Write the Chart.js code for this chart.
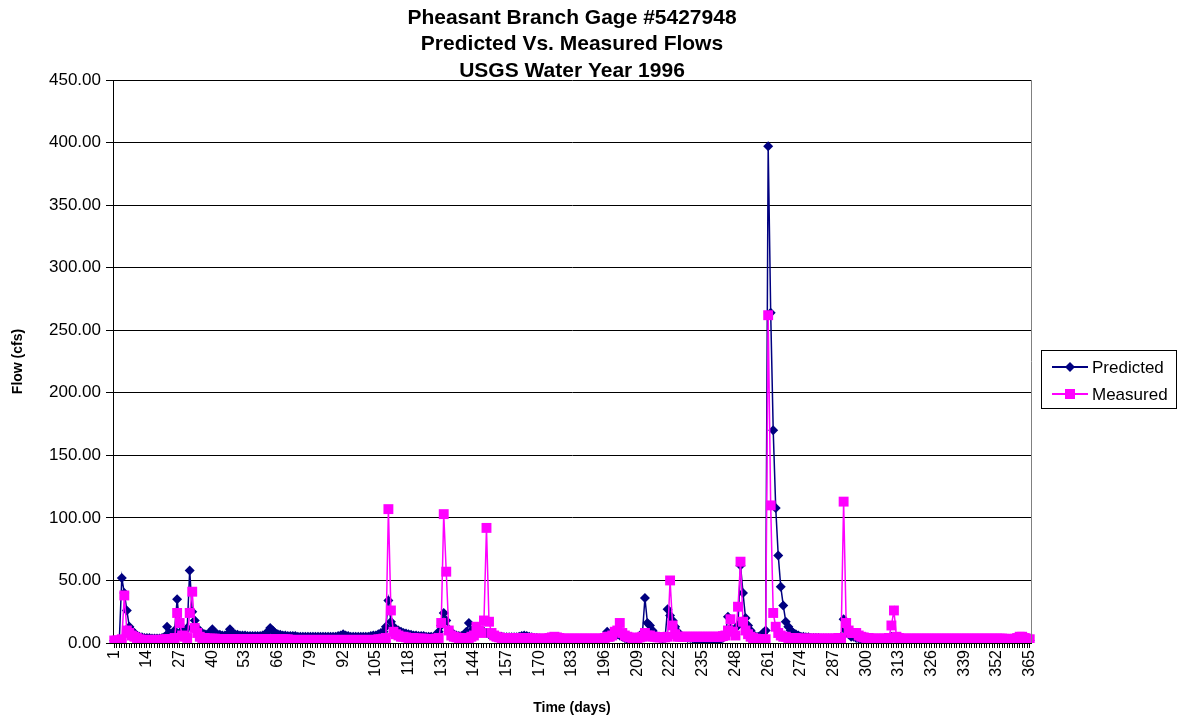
<!DOCTYPE html>
<html>
<head>
<meta charset="utf-8">
<script src="https://cdn.jsdelivr.net/npm/chart.js@4/dist/chart.umd.min.js"></script>
<style>
  body { margin: 0; background: #fff; }
  #wrap { width: 1177px; height: 721px; }
</style>
</head>
<body>
<div id="wrap"><canvas id="flowChart" width="1177" height="721"></canvas></div>
<script>
// days 1..365 of the water year
const days = Array.from({ length: 365 }, (_, i) => i + 1);
// labelled ticks on the time axis
const tickDays = [1, 14, 27, 40, 53, 66, 79, 92, 105, 118, 131, 144, 157, 170, 183, 196, 209, 222, 235, 248, 261, 274, 287, 300, 313, 326, 339, 352, 365];
const yTicks = [0, 50, 100, 150, 200, 250, 300, 350, 400, 450];
const titleLines = ["Pheasant Branch Gage #5427948", "Predicted Vs. Measured Flows", "USGS Water Year 1996"];

// predicted flow (cfs), 10 days per row
const predicted = [
  2, 2, 2, 52, 40, 26, 13, 10, 8, 6,
  5, 4.5, 4, 4, 4, 3.5, 3.5, 3.5, 3.5, 4,
  5, 13, 8, 6, 10, 35, 15, 10, 9, 12,
  58, 25, 18, 12, 9, 8, 7, 7, 8, 11,
  8, 7, 6.5, 6, 6, 7, 11, 8, 7, 6.5,
  6, 6, 6, 5.5, 5.5, 5.5, 5.5, 5.5, 5.5, 6,
  7, 9, 12, 10, 8, 7, 6.5, 6, 6, 5.5,
  5.5, 5.5, 5.5, 5, 5, 5, 5, 5, 5, 5,
  5, 5, 5, 5, 5, 5, 5, 5, 5, 5.5,
  6, 7, 6, 5.5, 5, 5, 5, 5, 5, 5,
  5, 5, 5.5, 6, 6, 7, 8, 9, 13, 34,
  17, 13, 11, 10, 9, 8, 7.5, 7, 6.5, 6,
  6, 5.5, 5.5, 5.5, 5, 5, 5, 5, 6, 9,
  14, 24, 18, 11, 8, 7, 6, 5.5, 5.5, 6,
  9, 16, 10, 7, 8, 9, 10, 9, 8, 7,
  6, 5.5, 5, 5, 5, 4.5, 4.5, 4.5, 4.5, 4.5,
  4.5, 5, 5.5, 6, 5.5, 5, 4.5, 4, 4, 3.5,
  3, 3, 3, 2.5, 2.5, 2.5, 2, 2, 2, 1.5,
  1.5, 1.5, 1.5, 1, 1, 1, 1, 1, 1, 1,
  1, 1, 1, 1.5, 2, 5, 9, 6, 5, 6,
  7, 6, 5, 4, 3, 3, 2.5, 2.5, 3, 4,
  8, 36, 16, 14, 10, 7, 5, 4, 3.5, 4,
  27, 22, 18, 13, 9, 6, 5, 4.5, 4, 4,
  3.5, 3, 2.5, 2, 1.5, 1.5, 1, 1, 1, 1.5,
  2, 3, 4, 7, 21, 12, 9, 7, 14, 62,
  40, 20, 14, 10, 7, 5, 5, 6, 8, 10,
  397, 264, 170, 108, 70, 45, 30, 17, 13, 10,
  8, 7, 6, 5, 5, 4.5, 4.5, 4, 4, 4,
  4, 3.5, 3.5, 3.5, 3.5, 3.5, 3.5, 3.5, 4, 5,
  19, 10, 7, 5, 5, 4, 3.5, 3, 3, 2.5,
  2.5, 2.5, 2.5, 2.5, 2.5, 2.5, 2.5, 2.5, 3, 5,
  5, 4, 3, 3, 2.5, 2.5, 2.5, 2.5, 2.5, 2.5,
  2.5, 2.5, 2.5, 2.5, 2.5, 2.5, 2.5, 2.5, 2.5, 2.5,
  2.5, 2, 2, 2, 2, 2, 2, 2, 2, 2,
  2, 2, 2, 2, 2, 2, 2, 2, 2, 2,
  2, 2, 2, 2, 2, 2, 2, 2, 2.5, 3,
  3, 3, 2.5, 2, 2
];

// measured flow (cfs), 10 days per row
const measured = [
  2, 2, 2, 3, 38, 10, 8, 6, 5, 4,
  3, 2.5, 2.5, 2.5, 2.5, 2.5, 2.5, 2.5, 2.5, 2.5,
  3, 3, 3, 3, 4, 24, 16, 6, 5, 4,
  24, 41, 12, 8, 5, 4, 4, 3.5, 3.5, 3.5,
  3.5, 3, 3, 3, 3, 3, 3, 3, 3, 3,
  3, 3, 3, 3, 3, 3, 3, 3, 3, 3,
  3, 3, 3, 3, 3, 3, 3, 3, 3, 3,
  2.5, 2.5, 2.5, 2.5, 2.5, 2.5, 2.5, 2.5, 2.5, 2.5,
  2.5, 2.5, 2.5, 2.5, 2.5, 2.5, 2.5, 2.5, 2.5, 2.5,
  2.5, 2.5, 2.5, 2.5, 2.5, 2.5, 2.5, 2.5, 2.5, 2.5,
  2.5, 2.5, 2.5, 2.5, 2.5, 3, 3, 3.5, 4, 107,
  26, 9, 7, 6, 5, 5, 4.5, 4, 4, 4,
  3.5, 3.5, 3.5, 3.5, 3, 3, 3, 3, 3.5, 4,
  16, 103, 57, 10, 6, 5, 4.5, 4, 4, 4,
  4, 4, 5, 6, 13, 10, 8, 18, 92, 17,
  8, 6, 5, 4.5, 4, 4, 4, 4, 4, 4,
  4, 4, 4, 4, 4, 4, 3.5, 3.5, 3.5, 3.5,
  3.5, 3.5, 3.5, 4, 4.5, 5, 4.5, 4, 3.5, 3.5,
  3.5, 3.5, 3.5, 3.5, 3.5, 3.5, 3.5, 3.5, 3.5, 3.5,
  3.5, 3.5, 3.5, 3.5, 3.5, 4, 5, 5, 6, 9,
  10, 16, 8, 6, 5, 4.5, 4, 4, 4, 4.5,
  5, 8, 6, 6, 5, 5, 4.5, 4.5, 4.5, 4.5,
  5, 50, 14, 7, 5, 5, 5, 5, 5, 5,
  5, 5, 5, 5, 5, 5, 5, 5, 5, 5,
  5, 5, 5.5, 6, 10, 19, 9, 6, 29, 65,
  17, 10, 7, 5, 4, 3.5, 3, 3, 3, 3,
  262, 110, 24, 13, 8, 6, 5, 5, 4, 4,
  4, 4, 3.5, 3.5, 3.5, 3.5, 3.5, 3.5, 3.5, 3.5,
  3.5, 3.5, 3.5, 3.5, 3.5, 3.5, 3.5, 3.5, 4, 4,
  113, 16, 10, 8, 8, 8, 6, 5, 4.5, 4,
  4, 3.5, 3.5, 3.5, 3.5, 3.5, 3.5, 3.5, 4, 14,
  26, 5, 4, 3.5, 3.5, 3.5, 3.5, 3.5, 3.5, 3.5,
  3.5, 3.5, 3.5, 3.5, 3.5, 3.5, 3.5, 3.5, 3.5, 3.5,
  3.5, 3.5, 3.5, 3.5, 3.5, 3.5, 3.5, 3.5, 3.5, 3.5,
  3.5, 3.5, 3.5, 3.5, 3.5, 3.5, 3.5, 3.5, 3.5, 3.5,
  3.5, 3.5, 3.5, 3.5, 3.5, 3, 3, 3, 3.5, 4,
  5, 5, 4, 3.5, 3
];

const NAVY = "#000080";
const PINK = "#ff00ff";
const FONT = "'Liberation Sans', Arial, Helvetica, sans-serif";

// title centred over the plot, boxed legend on the right, grey right border
const decorations = {
  id: "decorations",
  afterDraw(chart) {
    const ctx = chart.ctx;
    const a = chart.chartArea;
    ctx.save();

    ctx.fillStyle = "#000";
    ctx.font = "bold 21px " + FONT;
    ctx.textAlign = "center";
    ctx.textBaseline = "middle";
    const cx = (a.left + a.right) / 2;
    titleLines.forEach((t, i) => ctx.fillText(t, cx, 18 + i * 26.5));

    ctx.strokeStyle = "#808080";
    ctx.lineWidth = 1;
    ctx.beginPath();
    ctx.moveTo(Math.round(a.right) + 0.5, a.top);
    ctx.lineTo(Math.round(a.right) + 0.5, a.bottom);
    ctx.stroke();

    ctx.strokeStyle = "#000";
    ctx.strokeRect(1041.5, 350.5, 135, 58);
    const items = [
      { label: "Predicted", color: NAVY, shape: "diamond", y: 367 },
      { label: "Measured", color: PINK, shape: "square", y: 394 }
    ];
    items.forEach(it => {
      ctx.strokeStyle = it.color;
      ctx.lineWidth = 2;
      ctx.beginPath();
      ctx.moveTo(1052, it.y);
      ctx.lineTo(1088, it.y);
      ctx.stroke();
      ctx.fillStyle = it.color;
      ctx.beginPath();
      if (it.shape === "diamond") {
        ctx.moveTo(1070, it.y - 5);
        ctx.lineTo(1075, it.y);
        ctx.lineTo(1070, it.y + 5);
        ctx.lineTo(1065, it.y);
        ctx.closePath();
      } else {
        ctx.rect(1065, it.y - 5, 10, 10);
      }
      ctx.fill();
      ctx.fillStyle = "#000";
      ctx.font = "17px " + FONT;
      ctx.textBaseline = "middle";
      ctx.textAlign = "left";
      ctx.fillText(it.label, 1092, it.y + 1);
    });
    ctx.restore();
  }
};

const ctx = document.getElementById("flowChart").getContext("2d");
new Chart(ctx, {
  type: "line",
  data: {
    labels: days,
    datasets: [
      {
        label: "Predicted",
        data: predicted,
        borderColor: NAVY,
        backgroundColor: NAVY,
        borderWidth: 1.5,
        pointStyle: "rectRot",
        pointRadius: 5,
        pointBorderWidth: 0,
        tension: 0,
        order: 1
      },
      {
        label: "Measured",
        data: measured,
        borderColor: PINK,
        backgroundColor: PINK,
        borderWidth: 1.5,
        pointStyle: "rect",
        pointRadius: 7,
        pointBorderWidth: 0,
        tension: 0,
        order: 0
      }
    ]
  },
  options: {
    responsive: false,
    animation: false,
    layout: { padding: { left: 0, right: 146, top: 80, bottom: 0 } },
    plugins: {
      legend: { display: false },
      tooltip: { enabled: false },
      title: { display: false }
    },
    scales: {
      x: {
        type: "category",
        offset: true,
        grid: { display: true, drawOnChartArea: false, color: "#000", tickLength: 5, tickColor: "#000" },
        border: { display: true, color: "#000", width: 1 },
        ticks: {
          autoSkip: false,
          maxRotation: 90,
          minRotation: 90,
          padding: 2,
          color: "#000",
          font: { family: FONT, size: 16 },
          callback: function (val, i) {
            const d = days[i];
            return tickDays.includes(d) ? String(d) : "";
          }
        },
        title: {
          display: true,
          text: "Time (days)",
          color: "#000",
          font: { family: FONT, size: 14, weight: "bold" },
          padding: { top: 0, bottom: 4 }
        },
        afterFit: s => { s.height = 78; }
      },
      y: {
        min: 0,
        max: 450,
        afterBuildTicks: s => { s.ticks = yTicks.map(v => ({ value: v })); },
        grid: { color: "#000", tickLength: 7, tickColor: "#000" },
        border: { display: true, color: "#000", width: 1 },
        ticks: {
          padding: 5,
          color: "#000",
          font: { family: FONT, size: 17 },
          callback: v => Number(v).toFixed(2)
        },
        title: {
          display: true,
          text: "Flow (cfs)",
          color: "#000",
          font: { family: FONT, size: 14, weight: "bold" },
          padding: { top: 10, bottom: 0 }
        },
        afterFit: s => { s.width = 113; }
      }
    }
  },
  plugins: [decorations]
});
</script>
</body>
</html>
